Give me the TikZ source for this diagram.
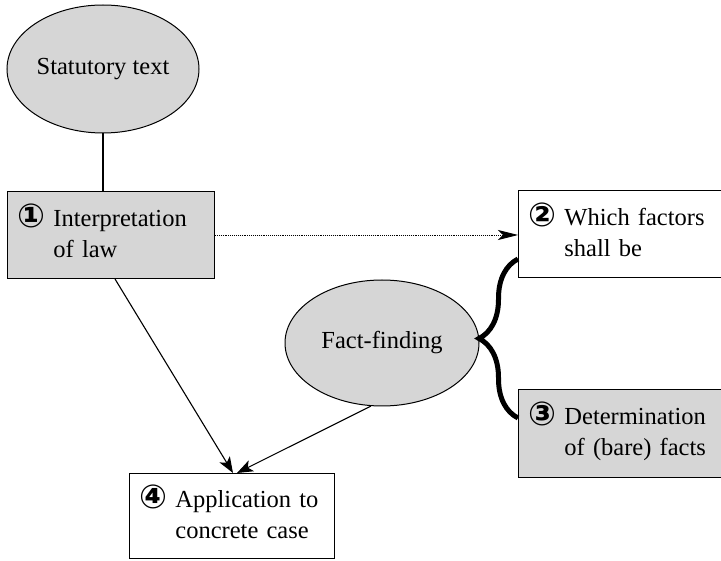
\documentclass[tikz,border=0pt]{standalone}
\usepackage{fontspec}
\setmainfont{Liberation Serif}
\newfontfamily\textserif{Liberation Serif}
\newfontfamily\circfont{DejaVu Sans}
\usetikzlibrary{shapes.geometric,arrows.meta,decorations.pathreplacing}
\definecolor{boxgray}{gray}{0.84}
\newcommand\cnum[1]{{\circfont\bfseries\fontsize{33}{33}\selectfont\raisebox{-1pt}{#1}}\hspace{8pt}}
\newcommand\twolines[2]{\begin{tabular}[t]{@{}l@{}}#1\\#2\end{tabular}}
\begin{document}
\begin{tikzpicture}[x=1pt,y=-1pt,
  font=\textserif\fontsize{24.5}{31}\selectfont,
  oval/.style={ellipse, draw=black, line width=1pt, fill=boxgray, inner sep=0pt},
  numbox/.style={rectangle, draw=black, line width=1pt, inner xsep=10pt, inner ysep=0pt,
     anchor=north west, align=left},
  conn/.style={line width=1.1pt, draw=black},
  tip/.style={-{Stealth[length=16pt,width=12pt,inset=4pt]}}
]
\useasboundingbox (0,0) rectangle (721,561);
\clip (0,0) rectangle (721,561);
\fill[white] (0,0) rectangle (721,561);

\node[oval, minimum width=192pt, minimum height=128pt] (st) at (103,69) {Statutory text};
\node[numbox, fill=boxgray, minimum width=207pt, minimum height=87pt, text width=187pt] (b1) at (7,191)
  {\cnum{①}\twolines{Interpretation}{of law}};
\node[numbox, fill=white, minimum width=212pt, minimum height=87pt, text width=192pt] (b2) at (518,190)
  {\cnum{②}\twolines{Which factors}{shall be}};
\node[oval, minimum width=194pt, minimum height=126pt] (ff) at (382,343) {Fact-finding};
\node[numbox, fill=boxgray, minimum width=212pt, minimum height=88pt, text width=192pt] (b3) at (518,389)
  {\cnum{③}\twolines{Determination}{of (bare) facts}};
\node[numbox, fill=white, minimum width=205pt, minimum height=85pt, text width=185pt] (b4) at (129,473)
  {\cnum{④}\twolines{Application to}{concrete case}};

\coordinate (bt) at ([yshift=19pt]b2.south west);
\coordinate (bb) at ([yshift=-29pt]b3.north west);

\draw[conn] (st.south) -- (st.south |- b1.north);
\draw[line width=0.9pt, densely dotted, -{Stealth[length=20pt,width=10pt,inset=5pt]}] (b1.east) -- (b1.east -| b2.west);
\draw[conn, tip] ([xshift=4pt]b1.south) -- ([xshift=1pt]b4.north);
\draw[conn, tip] (ff.260) -- ([xshift=5pt]b4.north);
\draw[line width=5pt, decorate, decoration={brace, amplitude=39pt}] (bb) -- (bt);
\end{tikzpicture}
\end{document}
